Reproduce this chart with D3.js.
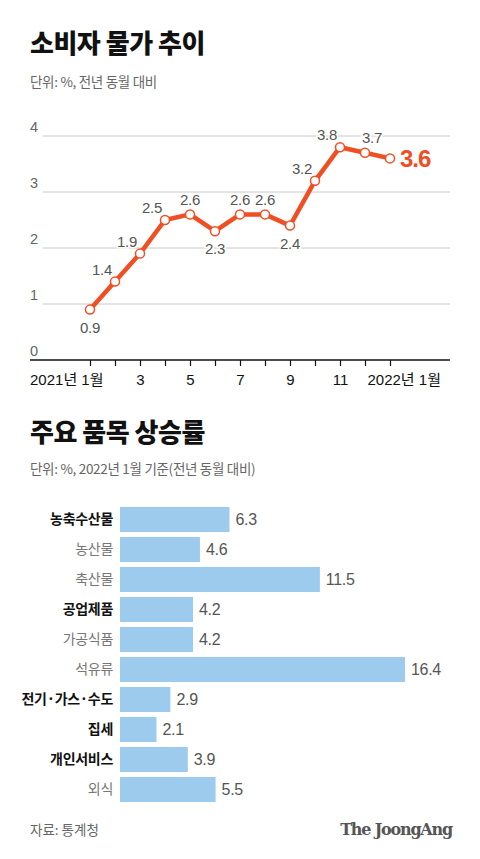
<!DOCTYPE html>
<html><head><meta charset="utf-8">
<script src="https://cdn.jsdelivr.net/npm/d3@7"></script>
<style>
html,body{margin:0;padding:0;background:#fff;}
svg{display:block;}
</style></head>
<body>
<script>
// ---- data ----
const months = ["2021년 1월","2","3","4","5","6","7","8","9","10","11","12","2022년 1월"];
const monthTickLabels = ["2021년 1월","","3","","5","","7","","9","","11","","2022년 1월"];
const cpi = [0.9,1.4,1.9,2.5,2.6,2.3,2.6,2.6,2.4,3.2,3.8,3.7,3.6];
const yTicks = [0,1,2,3,4];
const items = ["농축수산물","농산물","축산물","공업제품","가공식품","석유류","전기·가스·수도","집세","개인서비스","외식"];
const itemValues = [6.3,4.6,11.5,4.2,4.2,16.4,2.9,2.1,3.9,5.5];
const itemIsMain = [true,false,false,true,false,false,true,true,true,false];
// label placement (style, not data)
const labelPlace = ["below","left","left","left","above","below","above","above","below","left","left","right","last"];

const W=480,H=859;
const KR = "'Noto Sans CJK KR','Noto Sans',sans-serif";
const NUM = "'Liberation Sans','Noto Sans CJK KR',sans-serif";
const orange = "#f04e23";

const svg = d3.select("body").append("svg").attr("width",W).attr("height",H);

// titles
svg.append("text").attr("x",30).attr("y",53).text("소비자 물가 추이")
  .attr("font-family",KR).attr("font-weight",900).attr("font-size",26).attr("fill","#111").attr("letter-spacing",-0.5);
svg.append("text").attr("x",30).attr("y",87).text("단위: %, 전년 동월 대비")
  .attr("font-family",KR).attr("font-size",13.5).attr("fill","#666").attr("letter-spacing",-0.3);

// ---- line chart ----
const x = d3.scaleLinear().domain([0,12]).range([90,390]);
const y = d3.scaleLinear().domain([0,4]).range([360,136]);

const g = svg.append("g");
// gridlines
g.selectAll(".grid").data(yTicks.filter(d=>d>0)).join("line")
  .attr("x1",43).attr("x2",450).attr("y1",d=>y(d)).attr("y2",d=>y(d))
  .attr("stroke","#c8c8c8").attr("stroke-width",1);
// y labels
g.selectAll(".ylab").data(yTicks).join("text")
  .attr("x",30).attr("y",d=>y(d)-4).text(d=>d)
  .attr("font-family",NUM).attr("font-size",14.5).attr("fill","#666");
// x axis
const xAxis = d3.axisBottom(x).tickValues(d3.range(13)).tickSize(6).tickFormat((d,i)=>monthTickLabels[i]);
const ax = g.append("g").attr("transform",`translate(0,${y(0)})`).call(xAxis);
ax.select(".domain").remove();
ax.selectAll(".tick line").attr("stroke","#111").attr("stroke-width",1.2);
ax.selectAll(".tick text").attr("font-family",NUM).attr("font-size",15).attr("fill","#111").attr("dy","1.05em")
  .attr("text-anchor",(d,i)=> i===0?"end": i===12?"start":"middle")
  .attr("dx",(d,i)=> i===0?13: i===12?-23:0);
g.append("line").attr("x1",30).attr("x2",450).attr("y1",y(0)).attr("y2",y(0)).attr("stroke","#111").attr("stroke-width",1.5);

// line
const line = d3.line().x((d,i)=>x(i)).y(d=>y(d));
g.append("path").datum(cpi).attr("d",line).attr("fill","none").attr("stroke",orange)
  .attr("stroke-width",4.5).attr("stroke-linejoin","round");
g.selectAll(".pt").data(cpi).join("circle")
  .attr("cx",(d,i)=>x(i)).attr("cy",d=>y(d)).attr("r",4.5)
  .attr("fill","#fff").attr("stroke",orange).attr("stroke-width",1.5);

// value labels
const off = {below:[0,23],left:[-13,-7],above:[0,-9],right:[7,-10]};
g.selectAll(".vl").data(cpi).join("text")
  .attr("x",(d,i)=> labelPlace[i]==="last"? x(i)+10 : x(i)+off[labelPlace[i]][0])
  .attr("y",(d,i)=> labelPlace[i]==="last"? y(d)+8.5 : y(d)+off[labelPlace[i]][1])
  .attr("text-anchor",(d,i)=> labelPlace[i]==="last"?"start":"middle")
  .text(d=>d.toFixed(1))
  .attr("font-family",NUM)
  .attr("font-size",(d,i)=> labelPlace[i]==="last"?24:15)
  .attr("font-weight",(d,i)=> labelPlace[i]==="last"?"bold":"normal")
  .attr("letter-spacing",(d,i)=> labelPlace[i]==="last"?-1:-0.3)
  .attr("fill",(d,i)=> labelPlace[i]==="last"?orange:"#555")
  .attr("stroke",(d,i)=> labelPlace[i]==="last"?"none":"#fff").attr("stroke-width",3)
  .attr("paint-order","stroke");

// ---- bar chart ----
svg.append("text").attr("x",30).attr("y",442).text("주요 품목 상승률")
  .attr("font-family",KR).attr("font-weight",900).attr("font-size",26).attr("fill","#111").attr("letter-spacing",-0.5);
svg.append("text").attr("x",30).attr("y",474).text("단위: %, 2022년 1월 기준(전년 동월 대비)")
  .attr("font-family",KR).attr("font-size",13.5).attr("fill","#666").attr("letter-spacing",-0.3);

const yb = d3.scaleBand().domain(items).range([504.5,804.5]).paddingInner(1/6).paddingOuter(1/12);
const xb = d3.scaleLinear().domain([0,16.4]).range([120,405]);

const bg = svg.append("g");
bg.selectAll("rect").data(itemValues).join("rect")
  .attr("x",xb(0)).attr("y",(d,i)=>yb(items[i])).attr("width",d=>xb(d)-xb(0)).attr("height",yb.bandwidth())
  .attr("fill","#9ccbee");
bg.selectAll(".cat").data(items).join("text")
  .attr("x",113).attr("y",d=>yb(d)+yb.bandwidth()/2).attr("dy","0.35em")
  .attr("text-anchor","end").text(d=>d)
  .attr("font-family",KR).attr("font-size",14)
  .attr("font-weight",(d,i)=>itemIsMain[i]?"bold":"normal")
  .attr("fill",(d,i)=>itemIsMain[i]?"#111":"#777").attr("letter-spacing",-0.3);
bg.selectAll(".val").data(itemValues).join("text")
  .attr("x",d=>xb(d)+6).attr("y",(d,i)=>yb(items[i])+yb.bandwidth()/2).attr("dy","0.36em")
  .text(d=>d.toFixed(1))
  .attr("font-family",NUM).attr("font-size",16).attr("fill","#555").attr("letter-spacing",-0.3);

// footer
svg.append("text").attr("x",30).attr("y",835).text("자료: 통계청")
  .attr("font-family",KR).attr("font-size",13.5).attr("fill","#666");
svg.append("text").attr("x",452).attr("y",835).attr("text-anchor","end").text("The JoongAng")
  .attr("font-family","'DejaVu Serif','Liberation Serif',serif").attr("font-weight","bold").attr("font-size",16)
  .attr("fill","#555").attr("letter-spacing",-1.2);
</script>
</body></html>
